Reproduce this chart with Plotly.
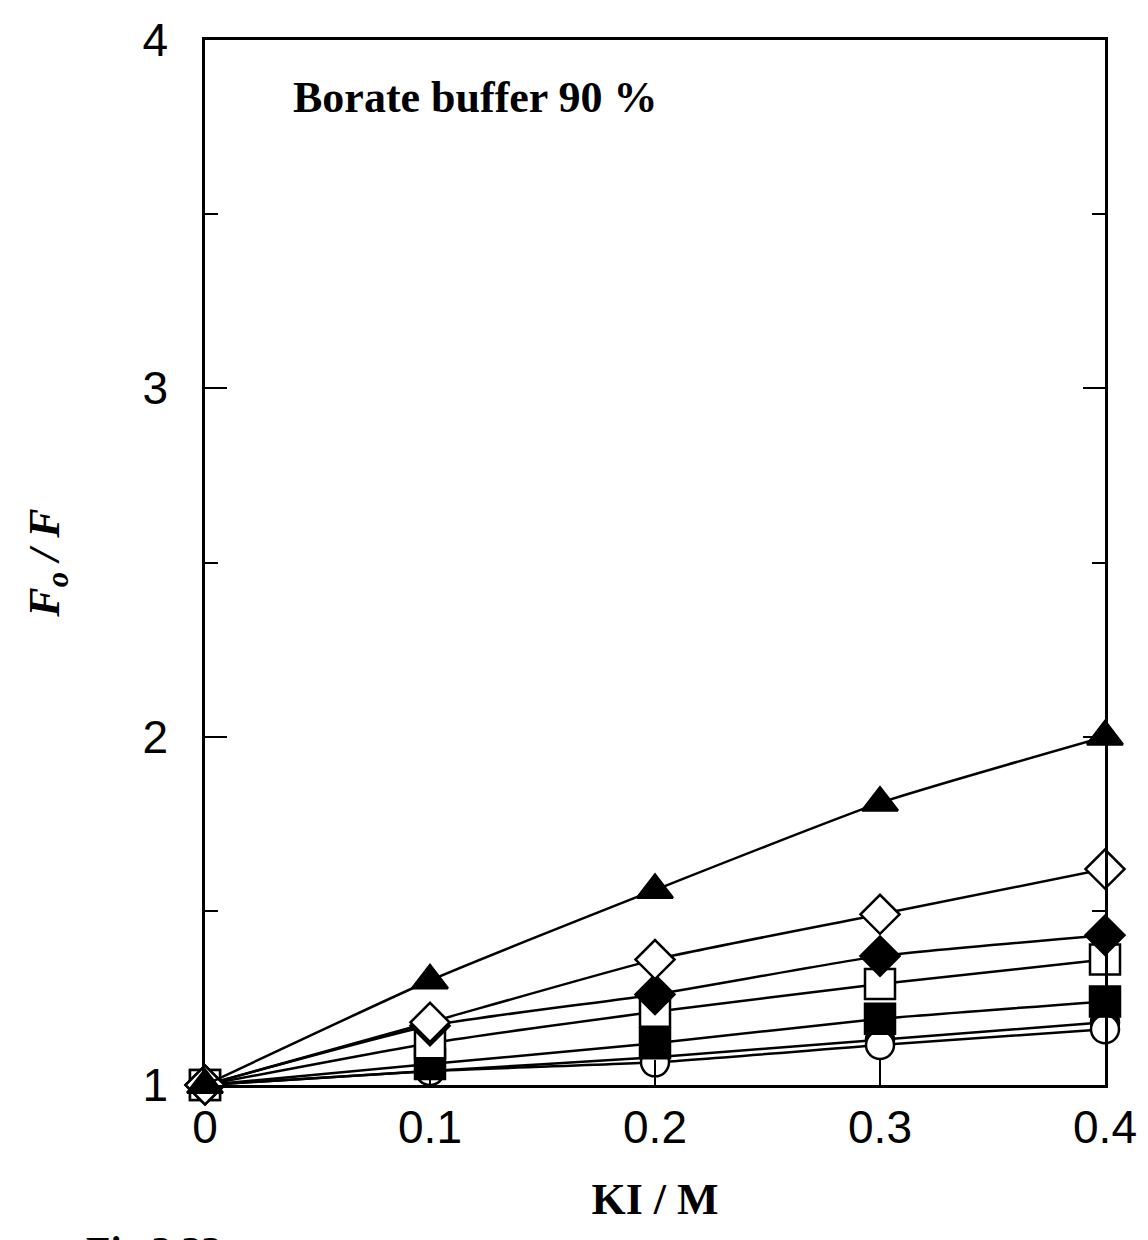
import plotly.graph_objects as go

ki = [0.0, 0.1, 0.2, 0.3, 0.4]

tri_filled = [1.00, 1.30, 1.56, 1.81, 2.00]
dia_open = [1.00, 1.18, 1.36, 1.49, 1.62]
dia_filled = [1.00, 1.17, 1.26, 1.37, 1.43]
sq_open = [1.00, 1.12, 1.21, 1.29, 1.36]
sq_filled = [1.00, 1.06, 1.12, 1.19, 1.24]
circ_filled = [1.00, 1.04, 1.08, 1.13, 1.18]
circ_open = [1.00, 1.04, 1.065, 1.115, 1.16]

x_ticks = [0, 0.1, 0.2, 0.3, 0.4]
x_labels = ["0", "0.1", "0.2", "0.3", "0.4"]
y_ticks = [1, 2, 3, 4]
y_minor = [1.5, 2.5, 3.5]

series = [
    ("circle filled", circ_filled, "circle", "black", 28),
    ("circle open", circ_open, "circle", "white", 28),
    ("square filled", sq_filled, "square", "black", 30),
    ("square open", sq_open, "square", "white", 30),
    ("diamond filled", dia_filled, "diamond", "black", 30),
    ("diamond open", dia_open, "diamond", "white", 30),
    ("triangle filled", tri_filled, "triangle-up", "black", 31),
]

fig = go.Figure()
for name, ys, sym, fill, size in series:
    fig.add_trace(go.Scatter(
        x=ki, y=ys, name=name, mode="lines+markers",
        line=dict(color="black", width=2.5, shape="spline", smoothing=0.5),
        marker=dict(symbol=sym, size=size, color=fill,
                    line=dict(color="black", width=2.5)),
        cliponaxis=False, showlegend=False,
    ))

tick_font = dict(family="Liberation Sans, Arial", size=46, color="black")
serif = "Liberation Serif, Times New Roman"
fig.update_layout(
    width=1148, height=1240,
    margin=dict(l=205, r=43, t=40, b=155),
    paper_bgcolor="white", plot_bgcolor="white",
    xaxis=dict(range=[0, 0.4], tickvals=x_ticks, ticktext=x_labels,
               ticks="inside", ticklen=25, tickwidth=2, tickcolor="black",
               showline=True, linecolor="black", linewidth=2.5, mirror=True,
               showgrid=False, zeroline=False, tickfont=tick_font,
               title=dict(text="<b>KI / M</b>", standoff=32,
                          font=dict(family=serif, size=44, color="black"))),
    yaxis=dict(range=[1, 4], tickvals=y_ticks,
               ticks="inside", ticklen=22, tickwidth=2, tickcolor="black",
               minor=dict(tickvals=y_minor, ticks="inside", ticklen=13,
                          tickwidth=2, tickcolor="black", showgrid=False),
               showline=True, linecolor="black", linewidth=2.5, mirror="ticks",
               showgrid=False, zeroline=False, tickfont=tick_font, ticklabelstandoff=25,
               title=dict(text="<b><i>F<sub>o</sub> / F</i></b>", standoff=70,
                          font=dict(family=serif, size=44, color="black"))),
    annotations=[
        dict(text="<b>Borate buffer 90 %</b>", xref="paper", yref="paper",
             x=0.095, y=0.945, xanchor="left", yanchor="middle", showarrow=False,
             font=dict(family=serif, size=44, color="black")),
        dict(text="<b>Fig 3.33</b>", xref="paper", yref="paper",
             x=-0.135, y=-0.135, xanchor="left", yanchor="top", showarrow=False,
             font=dict(family=serif, size=40, color="black")),
    ],
)

fig.write_html("out.html")
